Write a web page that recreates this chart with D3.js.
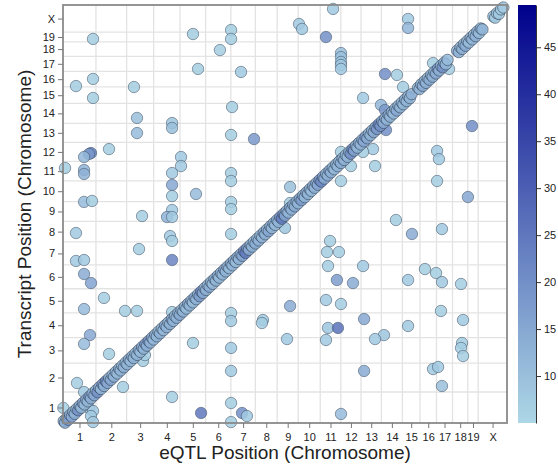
<!DOCTYPE html>
<html>
<head>
<meta charset="utf-8">
<script src="https://cdn.jsdelivr.net/npm/d3@7"></script>
<style>
  body { margin: 0; background: #fff; }
  text { font-family: "Liberation Sans", Arial, sans-serif; }
</style>
</head>
<body>
<div id="chart"></div>
<script>
// mouse chromosomes and their lengths (Mb)
const chromosomes = ['1','2','3','4','5','6','7','8','9','10','11','12','13','14','15','16','17','18','19','X'];
const chromLengths = [195.47,182.11,160.04,156.51,151.83,149.74,145.44,129.40,124.60,130.69,
                      122.08,120.13,120.42,124.90,104.04,98.21,94.99,90.70,61.43,171.03];

// colorbar ticks
const colorTicks = [10, 15, 20, 25, 30, 35, 40, 45];
const colorDomain = [5, 49.5];

// trans eQTLs: [eQTL genome pos (Mb), transcript genome pos (Mb), score]
const transEqtl = [
  [1602,2609,8],[1400,2514,8],[1418,2483,8],[1560,2432,20],[1649,2331,10],[1649,2306,10],
  [1649,2275,9],[1649,2256,9],[1649,2231,8],[1910,2199,20],[1981,2193,7],[2017,2117,7],
  [1780,2048,8],[1886,2004,12],[1910,1972,18],[1916,1915,22],[1916,1846,20],[2426,1871,20],
  [2219,1714,8],[2230,1663,8],[2219,1525,7],[2402,1424,15],[2195,2268,7],[2290,2231,7],
  [1708,1619,7],[1649,1525,7],[1649,1708,7],[1643,1651,7],[1839,1726,8],[1780,1708,7],
  [1851,1619,7],[1347,1487,10],[1347,1386,7],[1317,1229,9],[1975,1279,7],[2070,1191,14],
  [2248,1222,8],[1584,1147,7],[1566,1077,7],[1637,1077,7],[1572,989,7],[1780,989,8],
  [2147,970,7],[2213,945,7],[1625,901,17],[1720,882,14],[2047,901,8],[2248,888,8],
  [2361,876,7],[1560,775,8],[1649,750,7],[1347,737,14],[2242,706,7],[1786,655,15],
  [2373,649,8],[2047,611,8],[1572,599,9],[1631,599,26],[1904,554,9],[1851,529,8],
  [1329,529,8],[1560,523,8],[2367,504,7],[2361,473,7],[2373,422,7],[1786,328,14],
  [2195,340,8],[2225,353,8],[2248,233,10],[1649,57,11],[83,252,7],[356,227,7],
  [647,164,7],[819,63,25],[997,126,7],[1062,63,20],[1091,44,8],[997,6,7],
  [77,1197,8],[635,1178,8],[647,1147,7],[997,1191,7],[451,1096,7],[77,1021,8],
  [125,1027,8],[647,1027,22],[125,939,14],[166,882,16],[243,788,7],[125,718,11],
  [368,706,7],[439,706,7],[647,699,7],[997,693,7],[997,643,8],[1186,649,8],
  [1180,630,7],[160,554,15],[125,498,11],[771,504,7],[997,473,8],[273,435,7],
  [475,391,7],[486,428,7],[997,328,8],[2,95,7],[154,95,7],[178,76,8],
  [166,44,8],[178,6,8],[125,195,8],
  [178,2420,7],[771,2451,7],[997,2476,7],[997,2420,7],[931,2350,7],[801,2231,7],
  [1056,2212,8],[77,2123,7],[178,2168,7],[178,2048,7],[421,2117,7],[439,1922,10],
  [439,1827,11],[647,1890,9],[647,1859,10],[1003,1991,7],[997,1815,7],[1133,1789,18],
  [166,1701,24],[154,1695,18],[125,1676,12],[273,1726,7],[12,1607,7],[125,1594,13],
  [125,1569,13],[700,1676,8],[700,1619,8],[647,1575,8],[647,1500,15],[997,1575,7],
  [997,1525,7],[647,1430,7],[789,1443,11],[125,1393,11],[172,1399,7],[997,1393,7],
  [997,1348,7],[469,1304,7],[647,1342,8],[617,1298,13],[647,1298,8],
  [2047,2546,8],[2047,2489,12]
];

// cis eQTLs along the diagonal: [eQTL pos, transcript pos, score]
const cisEqtl = [
  [4,12,12],[12,2,14],[22,30,11],[31,20,18],[42,50,13],[52,40,15],[61,70,12],[70,58,13],[80,88,11],
  [90,80,20],[99,108,14],[108,96,12],[118,126,16],[128,117,11],[138,146,13],[147,136,12],
  [157,166,18],[166,155,13],[176,186,11],[186,175,15],[196,205,12],[205,194,20],[215,224,14],
  [225,214,12],[235,244,17],[244,233,13],[254,263,22],[264,253,14],[274,283,12],[284,272,15],
  [294,303,11],[303,292,13],[313,322,12],[323,312,11],[333,342,14],[342,331,12],[352,361,10],
  [362,351,13],[372,381,11],[381,370,12],[391,400,14],[401,390,11],[411,420,13],[420,409,12],
  [430,439,10],[440,429,12],[450,459,13],[459,448,11],[469,478,14],[479,468,12],[489,498,17],
  [498,487,13],[508,517,19],[518,507,12],[528,537,14],[537,526,11],[547,556,13],[557,546,12],
  [567,576,10],[576,565,13],[586,595,12],[596,585,11],[606,615,14],[615,604,12],[625,634,11],
  [635,624,13],[645,654,15],[654,643,12],[664,673,11],[674,663,13],[684,693,12],[693,682,14],
  [703,712,11],[713,702,13],[723,732,12],[732,721,11],[742,751,15],[752,741,12],[762,771,13],
  [771,760,11],[781,790,14],[791,780,12],[801,810,13],[810,799,17],[820,829,21],[830,819,14],
  [840,849,12],[849,838,13],[859,868,11],[869,858,14],[879,888,12],[888,877,11],[898,907,13],
  [908,897,12],[918,927,14],[927,916,11],[937,946,13],[947,936,12],[957,966,15],[966,955,12],
  [976,985,13],[986,975,11],[996,1005,14],[1005,994,12],[1015,1024,13],[1025,1014,11],
  [1035,1044,14],[1044,1033,12],[1054,1063,13],[1064,1053,16],[1074,1083,20],[1083,1072,24],
  [1093,1102,18],[1103,1092,14],[1113,1122,12],[1122,1111,13],[1132,1141,11],[1142,1131,14],
  [1152,1161,12],[1161,1150,13],[1171,1180,11],[1181,1170,12],[1191,1200,14],[1200,1189,13],
  [1210,1219,12],[1220,1209,15],[1230,1239,13],[1239,1228,12],[1249,1258,14],[1259,1248,11],
  [1269,1278,13],[1278,1267,12],[1288,1297,18],[1298,1287,24],[1308,1317,20],[1317,1306,16],
  [1327,1336,13],[1337,1326,12],[1347,1356,15],[1356,1345,13],[1366,1375,12],[1376,1365,14],
  [1386,1395,13],[1395,1384,12],[1405,1414,15],[1415,1404,17],[1425,1434,13],[1434,1423,12],
  [1444,1453,14],[1454,1443,12],[1464,1473,13],[1473,1462,11],[1483,1492,14],[1493,1482,12],
  [1503,1512,13],[1512,1501,15],[1522,1531,18],[1532,1521,21],[1542,1551,16],[1551,1540,14],
  [1561,1570,12],[1571,1560,13],[1581,1590,15],[1590,1579,13],[1600,1609,12],[1610,1599,11],
  [1620,1629,13],[1629,1618,12],[1639,1648,11],[1649,1638,14],[1659,1668,12],[1668,1657,13],
  [1678,1687,11],[1688,1677,12],[1698,1707,13],[1707,1696,20],[1717,1726,22],[1727,1716,16],
  [1737,1746,13],[1746,1735,12],[1756,1765,14],[1766,1755,12],[1776,1785,13],[1785,1774,15],
  [1795,1804,17],[1805,1794,14],[1815,1824,12],[1824,1813,13],[1834,1843,12],[1844,1833,14],
  [1854,1863,15],[1863,1852,18],[1873,1882,22],[1883,1872,19],[1893,1902,15],[1902,1891,14],
  [1912,1921,13],[1922,1911,12],[1932,1941,14],[1941,1930,12],[1951,1960,13],[1961,1950,11],
  [1971,1980,12],[1980,1969,14],[1990,1999,12],[2000,1989,13],[2010,2019,11],[2019,2008,12],
  [2029,2038,13],[2039,2028,12],[2049,2058,11],[2058,2047,12],[2068,2072,13],
  [2106,2112,11],[2115,2104,13],[2125,2134,12],[2135,2124,14],[2145,2154,12],[2154,2143,13],
  [2164,2173,11],[2174,2163,14],[2184,2193,12],[2193,2182,13],[2203,2212,12],[2213,2202,14],
  [2223,2232,18],[2232,2221,13],[2242,2251,12],[2252,2241,20],[2262,2271,13],[2271,2260,12],
  [2281,2288,11],
  [2338,2346,12],[2348,2337,13],[2358,2367,11],[2368,2357,13],[2378,2387,12],[2388,2377,14],
  [2398,2407,12],[2408,2397,11],[2418,2427,13],[2428,2417,12],[2438,2447,11],[2448,2437,13],
  [2458,2467,12],[2468,2457,11],[2478,2486,13],[2488,2480,12],
  [2553,2562,9],[2563,2554,8],[2574,2582,9],[2586,2578,8],[2598,2606,8],[2612,2618,8]
];

const W = 558, H = 465;
const plot = { left: 63, right: 507, top: 5, bottom: 423 };

const svg = d3.select('#chart').append('svg')
  .attr('width', W)
  .attr('height', H);

// chromosome start offsets along the genome
const starts = [0];
chromLengths.forEach(l => starts.push(starts[starts.length - 1] + l));
const genome = starts[starts.length - 1];
const centers = chromLengths.map((l, i) => starts[i] + l / 2);

const x = d3.scaleLinear().domain([0, genome]).range([plot.left, plot.right]);
const y = d3.scaleLinear().domain([0, genome]).range([plot.bottom, plot.top]);
const color = d3.scaleSequential(d3.interpolateRgb('#add8e6', '#00008b')).domain(colorDomain);

// grid at chromosome boundaries
const bounds = starts.slice(1, -1);
svg.append('g').selectAll('line.vg').data(bounds).enter().append('line')
  .attr('x1', d => x(d)).attr('x2', d => x(d))
  .attr('y1', plot.top).attr('y2', plot.bottom)
  .attr('stroke', '#e3e3e3').attr('stroke-width', 1.3);
svg.append('g').selectAll('line.hg').data(bounds).enter().append('line')
  .attr('y1', d => y(d)).attr('y2', d => y(d))
  .attr('x1', plot.left).attr('x2', plot.right)
  .attr('stroke', '#e3e3e3').attr('stroke-width', 1.3);

// points
const dots = svg.append('g');
function drawDots(data, edge) {
  dots.selectAll(null).data(data).enter().append('circle')
    .attr('cx', d => x(d[0]))
    .attr('cy', d => y(d[1]))
    .attr('r', 5.7)
    .attr('fill', d => color(d[2]))
    .attr('fill-opacity', 0.85)
    .attr('stroke', edge)
    .attr('stroke-opacity', 0.7)
    .attr('stroke-width', 0.8);
}
drawDots(transEqtl, '#45566a');
drawDots(cisEqtl, '#2c3a4c');

// frame
svg.append('rect')
  .attr('x', plot.left).attr('y', plot.top)
  .attr('width', plot.right - plot.left).attr('height', plot.bottom - plot.top)
  .attr('fill', 'none').attr('stroke', '#8a8a8a').attr('stroke-width', 1.8);

// axes
const xAxis = d3.axisBottom(x).tickValues(centers).tickFormat((d, i) => chromosomes[i]).tickSize(5);
const yAxis = d3.axisLeft(y).tickValues(centers).tickFormat((d, i) => chromosomes[i]).tickSize(5);

const gx = svg.append('g').attr('transform', `translate(0,${plot.bottom})`).call(xAxis);
const gy = svg.append('g').attr('transform', `translate(${plot.left},0)`).call(yAxis);
[gx, gy].forEach(g => {
  g.select('.domain').remove();
  g.selectAll('.tick line').attr('stroke', '#777');
  g.selectAll('.tick text').attr('fill', '#222').style('font-size', '11px');
});
gx.selectAll('.tick text').attr('dy', '0.9em');

// axis titles
svg.append('text')
  .attr('x', (plot.left + plot.right) / 2).attr('y', 459)
  .attr('text-anchor', 'middle')
  .style('font-size', '19px').attr('fill', '#222')
  .text('eQTL Position (Chromosome)');
svg.append('text')
  .attr('transform', `translate(31,${(plot.top + plot.bottom) / 2}) rotate(-90)`)
  .attr('text-anchor', 'middle')
  .style('font-size', '19px').attr('fill', '#222')
  .text('Transcript Position (Chromosome)');

// colorbar
const cb = { x: 518, w: 18 };
const grad = svg.append('defs').append('linearGradient')
  .attr('id', 'cbgrad').attr('x1', 0).attr('y1', 1).attr('x2', 0).attr('y2', 0);
d3.range(0, 1.0001, 0.1).forEach(t => {
  grad.append('stop').attr('offset', t)
    .attr('stop-color', color(colorDomain[0] + t * (colorDomain[1] - colorDomain[0])));
});
svg.append('rect')
  .attr('x', cb.x).attr('y', plot.top)
  .attr('width', cb.w).attr('height', plot.bottom - plot.top)
  .attr('fill', 'url(#cbgrad)');

const cScale = d3.scaleLinear().domain(colorDomain).range([plot.bottom, plot.top]);
const gc = svg.append('g').attr('transform', `translate(${cb.x + cb.w},0)`)
  .call(d3.axisRight(cScale).tickValues(colorTicks).tickSize(5).tickSizeOuter(0));
gc.select('.domain').attr('stroke', '#333');
gc.selectAll('.tick line').attr('stroke', '#333');
gc.selectAll('.tick text').attr('fill', '#222').style('font-size', '11px');
</script>
</body>
</html>
